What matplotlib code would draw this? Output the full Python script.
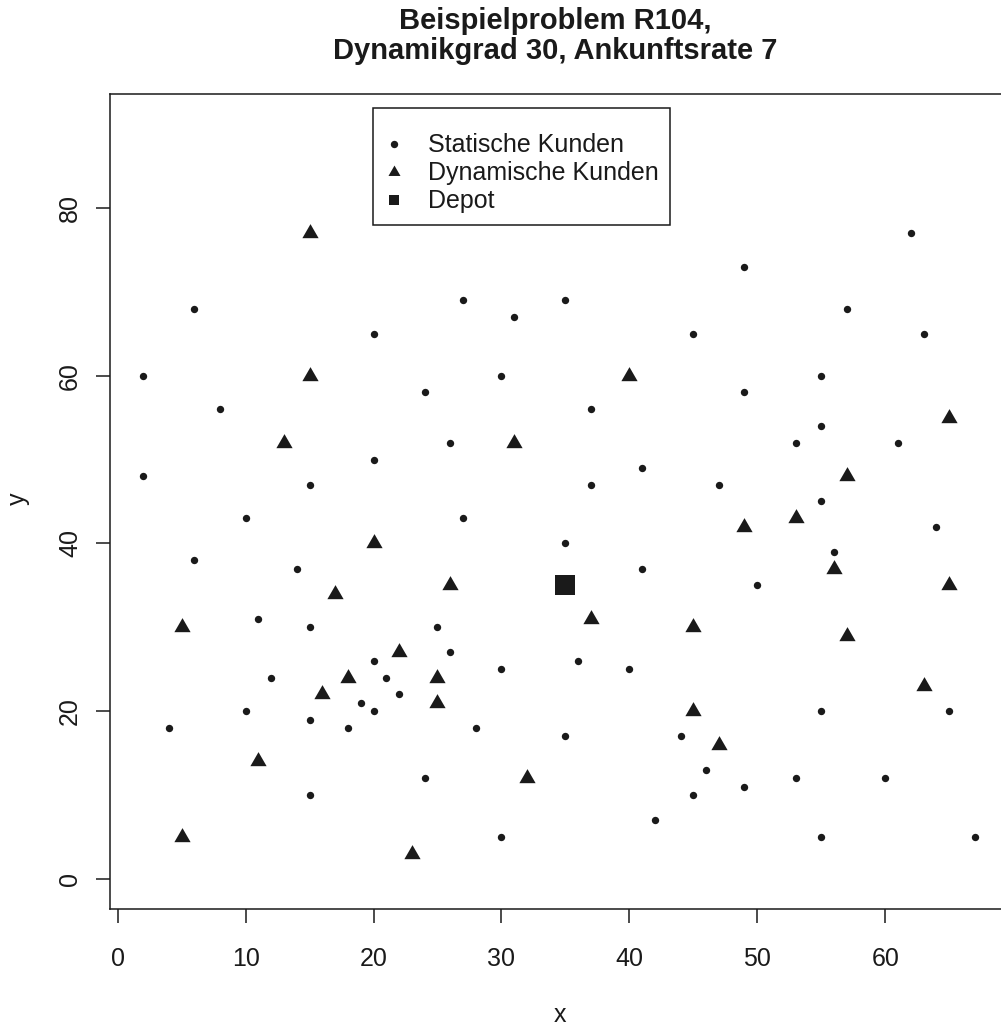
import matplotlib
matplotlib.use("Agg")
import matplotlib.pyplot as plt
from matplotlib.lines import Line2D

plt.rcParams['font.family'] = ['Liberation Sans', 'DejaVu Sans']

# Static customers
static_x = [2, 2, 6, 8, 6, 10, 14, 11, 4, 10, 12, 15, 15, 15, 15, 20, 20, 20, 20, 21,
            19, 18, 22, 24, 24, 26, 27, 27, 25, 26, 28, 30, 31, 35, 30, 30, 35, 35, 36, 37,
            37, 41, 41, 40, 42, 44, 46, 45, 45, 49, 49, 47, 50, 49, 53, 55, 55, 55, 56, 55,
            53, 55, 60, 62, 63, 61, 64, 65, 67, 57]
static_y = [60, 48, 68, 56, 38, 43, 37, 31, 18, 20, 24, 47, 30, 19, 10, 65, 50, 26, 20, 24,
            21, 18, 22, 58, 12, 52, 69, 43, 30, 27, 18, 60, 67, 69, 25, 5, 40, 17, 26, 56,
            47, 49, 37, 25, 7, 17, 13, 10, 65, 73, 58, 47, 35, 11, 52, 60, 54, 45, 39, 20,
            12, 5, 12, 77, 65, 52, 42, 20, 5, 68]

# Dynamic customers
dyn_x = [15, 15, 13, 40, 31, 65, 57, 49, 53, 20, 17, 26, 56, 65, 5, 37, 57, 45, 22, 18,
         16, 25, 25, 63, 45, 47, 11, 32, 5, 23]
dyn_y = [77, 60, 52, 60, 52, 55, 48, 42, 43, 40, 34, 35, 37, 35, 30, 31, 29, 30, 27, 24,
         22, 24, 21, 23, 20, 16, 14, 12, 5, 3]

depot_x = [35]
depot_y = [35]

xticks = [0, 10, 20, 30, 40, 50, 60]
yticks = [0, 20, 40, 60, 80]

W, H = 1001, 1029
fig = plt.figure(figsize=(W / 100, H / 100), dpi=100)
ax = fig.add_axes([110 / W, 1 - 909 / H, (1008 - 110) / W, (909 - 94) / H])

col = '#1a1a1a'
tri = [(-1, -0.577), (1, -0.577), (0, 1.155)]

ax.plot(static_x, static_y, 'o', color=col, markersize=5.3, markeredgewidth=0)
ax.plot(dyn_x, dyn_y, linestyle='none', marker=tri, color=col, markersize=13.5,
        markeredgewidth=0)
ax.plot(depot_x, depot_y, 's', color=col, markersize=14.4, markeredgewidth=0)

ax.set_xlim(-0.6, 69.6)
ax.set_ylim(-3.6, 93.6)
ax.set_xticks(xticks)
ax.set_yticks(yticks)
ax.set_yticklabels([str(v) for v in yticks], rotation=90, va='center')
ax.tick_params(axis='both', direction='out', length=10, width=1.1, labelsize=18,
               colors=col)
ax.tick_params(axis='x', pad=17)
ax.tick_params(axis='y', pad=10)
for s in ax.spines.values():
    s.set_linewidth(1.1)
    s.set_color(col)

fig.text(560 / W, 1 - 1015 / H, 'x', ha='center', va='center', fontsize=18, color=col)
fig.text(18 / W, 1 - 499 / H, 'y', ha='center', va='center', fontsize=18, color=col,
         rotation=90)
fig.text(555 / W, 1 - 36 / H, 'Beispielproblem R104,\nDynamikgrad 30, Ankunftsrate 7',
         ha='center', va='center', fontsize=21, fontweight='bold', color=col,
         linespacing=1.1)

handles = [
    Line2D([], [], linestyle='none', marker='o', color=col, markersize=5.3, markeredgewidth=0),
    Line2D([], [], linestyle='none', marker=tri, color=col, markersize=10, markeredgewidth=0),
    Line2D([], [], linestyle='none', marker='s', color=col, markersize=7, markeredgewidth=0),
]
labels = ['Statische Kunden', 'Dynamische Kunden', 'Depot']
leg = fig.legend(handles, labels, loc='upper left',
                 bbox_to_anchor=(373 / W, 1 - 108 / H), fontsize=18,
                 frameon=True, fancybox=False, edgecolor=col, framealpha=1,
                 borderpad=0.45, labelspacing=0.16, handlelength=0.8,
                 handletextpad=0.96, borderaxespad=0,
                 title=' ', title_fontsize=7.5)
leg.get_frame().set_linewidth(1.1)
for t in leg.get_texts():
    t.set_color(col)

fig.savefig('out.png', dpi=100)
